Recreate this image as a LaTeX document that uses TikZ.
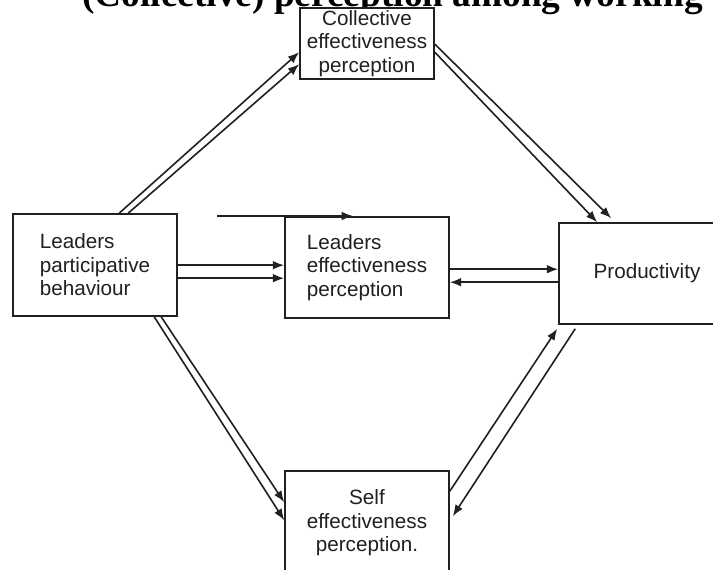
\documentclass[tikz,border=0pt]{standalone}
\usepackage{fontspec}
\setmainfont{Liberation Serif}
\newfontfamily\arialf{Liberation Sans}
\usetikzlibrary{arrows.meta,calc}
\definecolor{ink}{HTML}{231F20}
\begin{document}
\begin{tikzpicture}[x=0.75pt,y=-0.75pt,
  box/.style={draw=ink,fill=white,line width=1.2pt,rectangle,inner sep=0pt,text=ink,
    font=\arialf\fontsize{15.5}{17.6}\selectfont,align=center},
  arr/.style={draw=ink,line width=1.2pt,-{Latex[length=8.5pt,width=6.5pt]}}]
\useasboundingbox (0,0) rectangle (713,570);
\clip (0,0) rectangle (713,570);
\node[anchor=base west,inner sep=0pt,font=\bfseries\fontsize{28}{30}\selectfont] (title) at (82,7) {(Collective) perception among working teams};
\node[box,minimum width=100.5pt,minimum height=53.25pt] (coll) at (367,43.5) {Collective\\effectiveness\\perception};
\node[box,minimum width=123pt,minimum height=76.5pt,align=left] (lpb) at (95,265) {Leaders\\participative\\behaviour};
\node[box,minimum width=123pt,minimum height=75.75pt,align=left] (lep) at (367,267.5) {Leaders\\effectiveness\\perception};
\node[box,minimum width=132pt,minimum height=75.75pt] (prod) at (647,273.5) {Productivity};
\node[box,minimum width=123pt,minimum height=78pt] (self) at (367,523) {Self\\effectiveness\\perception.};
% stray arrow above the middle box
\coordinate (s1) at (217,216);
\coordinate (s2) at (353,216);
\draw[arr] (s1) -- (s2);
% leaders participative -> collective
\draw[arr] ($(lpb.north west)+(107,0)$) -- ($(coll.north west)+(0,45)$);
\draw[arr] ($(lpb.north west)+(116,0)$) -- ($(coll.north west)+(0,57)$);
% collective -> productivity
\draw[arr] ($(coll.north east)+(0,45)$) -- ($(prod.north west)+(39,0)$);
\draw[arr] ($(coll.north east)+(0,37)$) -- ($(prod.north west)+(53,-4)$);
% leaders participative -> leaders effectiveness
\draw[arr] ($(lpb.north east)+(0,52)$) -- ($(lep.north west)+(0,49)$);
\draw[arr] ($(lpb.north east)+(0,65)$) -- ($(lep.north west)+(0,62)$);
% leaders effectiveness <-> productivity
\draw[arr] ($(lep.north east)+(0,53)$) -- ($(prod.north west)+(0,47)$);
\draw[arr] ($(prod.north west)+(0,60)$) -- ($(lep.north east)+(0,66)$);
% leaders participative -> self
\draw[arr] ($(lpb.south west)+(142,0)$) -- ($(self.north west)+(0,50)$);
\draw[arr] ($(lpb.south west)+(149,0)$) -- ($(self.north west)+(0,32)$);
% self <-> productivity
\draw[arr] ($(self.north east)+(0,21)$) -- ($(prod.south west)+(-1,4)$);
\draw[arr] ($(prod.south west)+(17,4)$) -- ($(self.north east)+(3,46)$);
\end{tikzpicture}
\end{document}
